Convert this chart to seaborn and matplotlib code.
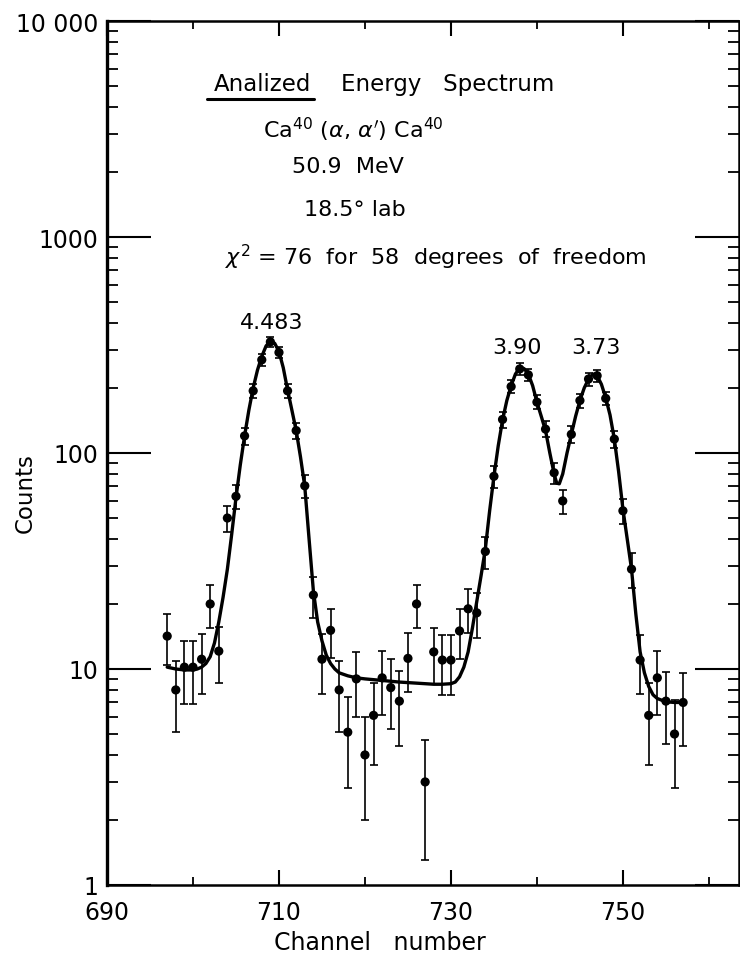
import matplotlib
matplotlib.use("Agg")
import matplotlib.pyplot as plt
import matplotlib.ticker as mticker
from matplotlib.lines import Line2D
import pandas as pd
import seaborn as sns

# ---------------- data ----------------
channel = [697, 698, 699, 700, 701, 702, 703, 704, 705, 706,
           707, 708, 709, 710, 711, 712, 713, 714, 715, 716,
           717, 718, 719, 720, 721, 722, 723, 724, 725, 726,
           727, 728, 729, 730, 731, 732, 733, 734, 735, 736,
           737, 738, 739, 740, 741, 742, 743, 744, 745, 746,
           747, 748, 749, 750, 751, 752, 753, 754, 755, 756, 757]
counts = [14.2, 8.0, 10.2, 10.2, 11.1, 20.0, 12.1, 50, 63, 120,
          194, 270, 327, 292, 194, 127, 70.5, 22, 11.1, 15.1,
          8.0, 5.1, 9.0, 4.0, 6.1, 9.1, 8.2, 7.1, 11.2, 20.0,
          3.0, 12.0, 11.0, 11.0, 15.0, 19.0, 18.2, 35, 78, 143,
          203, 245, 230, 172, 129, 81, 60, 122, 175, 220,
          228, 179, 116, 54, 29, 11.0, 6.1, 9.1, 7.1, 5.0, 7.0]
count_err = [3.8, 2.9, 3.3, 3.3, 3.4, 4.5, 3.5, 7.0, 8.0, 11.0,
             14.0, 16.0, 18.0, 17.0, 14.0, 11.0, 8.5, 4.7, 3.4, 3.9,
             2.9, 2.3, 3.0, 2.0, 2.5, 3.0, 2.9, 2.7, 3.4, 4.5,
             1.7, 3.5, 3.4, 3.4, 3.9, 4.4, 4.3, 6.0, 9.0, 12.0,
             14.0, 16.0, 15.0, 13.0, 11.0, 9.0, 7.7, 11.0, 13.0, 15.0,
             15.0, 13.0, 11.0, 7.3, 5.4, 3.3, 2.5, 3.0, 2.6, 2.2, 2.6]

fit_channel = [697, 698, 699, 700, 700.5, 701, 701.5, 702, 702.5, 703,
               703.5, 704, 704.5, 705, 705.5, 706, 706.5, 707, 707.5, 708,
               708.5, 709, 709.5, 710, 710.5, 711, 711.5, 712, 712.5, 713,
               713.5, 714, 714.5, 715, 715.5, 716, 716.5, 717, 718, 719,
               720, 722, 724, 726, 728, 729, 730, 730.5, 731, 731.5,
               732, 732.5, 733, 733.5, 734, 734.5, 735, 735.5, 736, 736.5,
               737, 737.5, 738, 738.5, 739, 739.5, 740, 740.5, 741, 741.5,
               742, 742.3, 742.6, 743, 743.5, 744, 744.5, 745, 745.5, 746,
               746.5, 747, 747.5, 748, 748.5, 749, 749.5, 750, 750.5, 751,
               751.5, 752, 752.5, 753, 753.5, 754, 755, 756, 757]
fit_counts = [10.2, 10.0, 9.9, 9.9, 10.0, 10.2, 10.6, 11.4, 13.2, 16.5,
              21.5, 29, 42, 62, 88, 120, 158, 200, 242, 280,
              313, 330, 322, 295, 248, 196, 158, 127, 96, 70,
              40, 23, 16.5, 13.5, 11.6, 10.6, 10.0, 9.6, 9.3, 9.1,
              9.0, 8.85, 8.7, 8.6, 8.5, 8.5, 8.55, 8.7, 9.2, 10.2,
              12.0, 15.5, 20.5, 27, 36, 54, 78, 108, 142, 175,
              205, 232, 248, 246, 232, 205, 172, 148, 127, 100,
              80, 72.5, 72, 80, 100, 122, 148, 175, 200, 220,
              232, 228, 208, 180, 150, 116, 82, 55, 40, 29,
              18, 12.0, 9.6, 8.3, 7.6, 7.3, 7.05, 7.0, 7.0]

x_ticks = [690, 710, 730, 750]
x_minor_ticks = [700, 720, 740, 760]
y_ticks = [1, 10, 100, 1000, 10000]
y_tick_labels = ["1", "10", "100", "1000", "10 000"]
peak_labels = ["4.483", "3.90", "3.73"]
peak_label_x = [709.2, 737.7, 746.9]
peak_label_y = [405, 308, 308]

points = pd.DataFrame({"channel": channel, "counts": counts, "err": count_err})
fit = pd.DataFrame({"channel": fit_channel, "counts": fit_counts})

# ---------------- figure ----------------
sns.set_theme(style="ticks")
plt.rcParams["font.family"] = ["DejaVu Sans"]
plt.rcParams["mathtext.fontset"] = "dejavusans"
for key in ["text.color", "axes.labelcolor", "xtick.color", "ytick.color",
            "xtick.labelcolor", "ytick.labelcolor"]:
    plt.rcParams[key] = "black"

fig = plt.figure(figsize=(7.4, 9.62), dpi=100)
ax = fig.add_axes([107 / 740, 1 - 886 / 962, 632 / 740, 864 / 962])
ax.set_yscale("log")

ax.errorbar(points["channel"], points["counts"], yerr=points["err"], fmt="none",
            ecolor="black", elinewidth=1.2, capsize=3.0, capthick=1.2, zorder=2)
sns.lineplot(data=fit, x="channel", y="counts", ax=ax, color="black",
             linewidth=2.4, sort=True, estimator=None, zorder=3)
sns.scatterplot(data=points, x="channel", y="counts", ax=ax, color="black",
                s=44, edgecolor="none", zorder=4)

ax.set_xlim(690, 763.5)
ax.set_ylim(1, 10000)

ax.set_xticks(x_ticks)
ax.set_xticklabels([str(v) for v in x_ticks])
ax.set_xticks(x_minor_ticks, minor=True)
ax.set_yticks(y_ticks)
ax.set_yticklabels(y_tick_labels)
ax.yaxis.set_minor_locator(mticker.LogLocator(base=10, subs=range(2, 10)))
ax.yaxis.set_minor_formatter(mticker.NullFormatter())

ax.tick_params(axis="y", which="major", direction="in", length=32, width=1.5,
               left=True, right=True, labelsize=17, pad=6)
ax.tick_params(axis="y", which="minor", direction="in", length=8, width=1.3,
               left=True, right=True)
ax.tick_params(axis="x", which="major", direction="in", length=11, width=1.5,
               top=True, bottom=True, labelsize=17, pad=11)
ax.tick_params(axis="x", which="minor", direction="in", length=6, width=1.3,
               top=True, bottom=True)

for side, sp in ax.spines.items():
    sp.set_visible(True)
    sp.set_color("black")
    sp.set_linewidth(2.4 if side == "left" else 1.8)

ax.set_xlabel("")
ax.set_ylabel("")
fig.text(380 / 740, 1 - 943 / 962, "Channel   number", ha="center", va="center",
         fontsize=17)
fig.text(25 / 740, 1 - 493 / 962, "Counts", ha="center", va="center",
         rotation=90, fontsize=16.5)

# ---------------- annotations ----------------
t1 = ax.text(0.169, 0.928, "Analized", transform=ax.transAxes, ha="left",
             va="center", fontsize=16.5)
ax.text(0.37, 0.928, "Energy   Spectrum", transform=ax.transAxes, ha="left",
        va="center", fontsize=16.5)
ax.text(0.389, 0.875, r"Ca$^{40}$ ($\alpha$, $\alpha'$) Ca$^{40}$",
        transform=ax.transAxes, ha="center", va="center", fontsize=16)
ax.text(0.381, 0.832, "50.9  MeV", transform=ax.transAxes, ha="center",
        va="center", fontsize=16)
ax.text(0.392, 0.782, "18.5° lab", transform=ax.transAxes, ha="center",
        va="center", fontsize=16)
ax.text(0.52, 0.728, r"$\chi^2$ = 76  for  58  degrees  of  freedom",
        transform=ax.transAxes, ha="center", va="center", fontsize=16)

fig.canvas.draw()
bb = t1.get_window_extent(fig.canvas.get_renderer())
inv = ax.transAxes.inverted()
(x0, _), (x1, _) = inv.transform([(bb.x0, bb.y0), (bb.x1, bb.y0)])
ax.add_line(Line2D([x0 - 0.01, x1 + 0.005], [0.9097, 0.9097], transform=ax.transAxes,
                   color="black", linewidth=2.2))

for lab, px, py in zip(peak_labels, peak_label_x, peak_label_y):
    ax.text(px, py, lab, ha="center", va="center", fontsize=16)

fig.savefig("out.png", dpi=100)
